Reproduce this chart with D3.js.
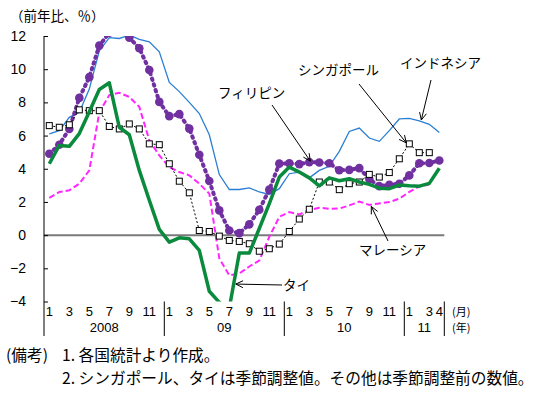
<!DOCTYPE html>
<html>
<head>
<meta charset="utf-8">
<script src="https://cdn.jsdelivr.net/npm/d3@7"></script>
<style>
  body { margin: 0; background: #fff; }
</style>
</head>
<body>
<div id="chart"></div>
<script>
// months Jan 2008 .. Apr 2011, only odd months (and Apr 2011) are labelled
var monthLabels = [
    "1", "", "3", "", "5", "", "7", "", "9", "", "11", "",
    "1", "", "3", "", "5", "", "7", "", "9", "", "11", "",
    "1", "", "3", "", "5", "", "7", "", "9", "", "11", "",
    "1", "", "3", "4"
];
var yearLabels = ["2008", "09", "10", "11"];
var yearLengths = [12, 12, 12, 4];
var yTicks = [-4, -2, 0, 2, 4, 6, 8, 10, 12];

// CPI, % y/y
var indonesia = [6.1, 6.3, 7.1, 7.4, 8.8, 11.1, 11.9, 11.85, 12.05, 11.8, 11.65, 11.05,
    9.2, 8.65, 8.0, 7.33, 6.05, 3.65, 2.75, 2.75, 2.85, 2.6, 2.45, 2.8,
    3.7, 3.8, 3.45, 3.9, 4.15, 5.05, 6.25, 6.45, 5.85, 5.65, 6.3, 7.0,
    7.03, 6.88, 6.68, 6.18];
var singapore = [6.6, 6.5, 6.65, 7.55, 7.5, 7.5, 6.55, 6.4, 6.7, 6.4, 5.5, 5.45,
    4.3, 3.25, 2.55, 0.28, 0.22, -0.06, -0.32, -0.38, -0.52, -0.97, -0.82, -0.54,
    0.22, 0.97, 1.56, 3.2, 3.2, 2.74, 3.1, 3.2, 3.66, 3.5, 3.77, 4.6,
    5.5, 4.97, 4.97, null];
var philippines = [4.9, 5.45, 6.4, 8.27, 9.52, 11.42, 12.2, 12.5, 11.9, 11.26, 9.95, 8.03,
    7.17, 7.29, 6.42, 4.84, 3.26, 1.49, 0.28, 0.12, 0.65, 1.53, 2.74, 4.31,
    4.33, 4.28, 4.4, 4.38, 4.33, 3.91, 3.93, 4.04, 3.38, 2.95, 3.03, 3.1,
    3.6, 4.33, 4.35, 4.5];
var malaysia = [2.24, 2.6, 2.7, 3.1, 3.9, 7.4, 8.44, 8.58, 8.33, 7.73, 5.72, 4.8,
    4.1, 3.8, 3.6, 3.1, 2.5, -1.4, -2.43, -2.31, -1.89, -1.53, -0.1, 1.1,
    1.39, 1.25, 1.51, 1.65, 1.59, 1.6, 1.79, 2.02, 1.82, 1.91, 1.99, 2.2,
    2.6, 2.93, 3.05, null];
var thailand = [4.3, 5.4, 5.35, 6.12, 7.43, 8.78, 9.18, 6.5, 6.05, 3.9, 2.1, 0.35,
    -0.42, -0.16, -0.22, -0.92, -3.38, -4.05, -4.4, -1.08, -1.08, 0.4, 1.9, 3.5,
    4.1, 3.8, 3.45, 2.97, 3.45, 3.28, 3.4, 3.2, 3.06, 2.83, 2.8, 3.02,
    2.97, 2.95, 3.12, 4.03];

var width = 541, height = 400;
var jpFont = "'Noto Sans CJK JP', sans-serif",
    numFont = "'Liberation Sans Narrow', 'Liberation Sans', Arial, sans-serif";

var svg = d3.select("#chart").append("svg")
    .attr("width", width)
    .attr("height", height);

var x = d3.scaleBand()
    .domain(d3.range(monthLabels.length))
    .range([44.3, 444.3]);
var y = d3.scaleLinear()
    .domain([-4, 12])
    .range([301.5, 36]);

function cx(i) { return x(i) + x.bandwidth() / 2; }

svg.append("defs").append("clipPath")
    .attr("id", "plot-clip")
    .append("rect")
    .attr("x", 44)
    .attr("y", y(12))
    .attr("width", x.range()[1] - 44)
    .attr("height", y(-4) - y(12));

// title
svg.append("text")
    .attr("x", 10)
    .attr("y", 21)
    .attr("font-family", jpFont)
    .attr("font-size", 13.5)
    .text("（前年比、％）");

// zero line
svg.append("line")
    .attr("x1", 44).attr("x2", x.range()[1])
    .attr("y1", y(0)).attr("y2", y(0))
    .attr("stroke", "#7a7a7a")
    .attr("stroke-width", 2);

// y axis
var yAxis = svg.append("g")
    .attr("transform", "translate(44,0)")
    .call(d3.axisLeft(y).tickValues(yTicks).tickSizeInner(-4).tickSizeOuter(0).tickPadding(18)
        .tickFormat(function(d) { return d < 0 ? "\u2212" + Math.abs(d) : d; }));
yAxis.select(".domain").remove();
yAxis.selectAll("line").attr("stroke", "#000");
yAxis.selectAll("text")
    .attr("font-family", numFont)
    .attr("font-size", 14)
    .attr("fill", "#000");

// year separators (also continue the y axis down)
var bounds = [0];
yearLengths.forEach(function(n, k) { bounds.push(bounds[k] + n); });
svg.selectAll(".sep")
    .data(bounds)
    .enter().append("line")
        .attr("class", "sep")
        .attr("x1", function(d) { return d === 0 ? 44 : x(d - 1) + x.bandwidth(); })
        .attr("x2", function(d) { return d === 0 ? 44 : x(d - 1) + x.bandwidth(); })
        .attr("y1", function(d) { return d === 0 ? y(12) : y(-4); })
        .attr("y2", 336)
        .attr("stroke", "#000")
        .attr("stroke-width", 1);

// x axis: month labels
var xAxis = svg.append("g")
    .attr("transform", "translate(0," + y(-4) + ")")
    .call(d3.axisBottom(x).tickSize(0).tickPadding(5)
        .tickFormat(function(i) { return monthLabels[i]; }));
xAxis.select(".domain").remove();
xAxis.selectAll("text")
    .attr("font-family", numFont)
    .attr("font-size", 13)
    .attr("fill", "#000");

// year labels
svg.selectAll(".year")
    .data(yearLabels)
    .enter().append("text")
        .attr("class", "year")
        .attr("x", function(d, k) {
            return (x(bounds[k]) + x(bounds[k + 1] - 1) + x.bandwidth()) / 2;
        })
        .attr("y", 332)
        .attr("text-anchor", "middle")
        .attr("font-family", numFont)
        .attr("font-size", 13)
        .text(function(d) { return d; });

// unit labels
svg.append("text")
    .attr("x", 452).attr("y", 316)
    .attr("font-family", jpFont).attr("font-size", 11)
    .text("(月)");
svg.append("text")
    .attr("x", 452).attr("y", 332)
    .attr("font-family", jpFont).attr("font-size", 11)
    .text("(年)");

// series
var plot = svg.append("g").attr("clip-path", "url(#plot-clip)");

var line = d3.line()
    .defined(function(d) { return d !== null; })
    .x(function(d, i) { return cx(i); })
    .y(function(d) { return y(d); });

plot.append("path")
    .datum(indonesia)
    .attr("fill", "none")
    .attr("stroke", "#2b7fd3")
    .attr("stroke-width", 1.3)
    .attr("d", line);

plot.append("path")
    .datum(malaysia)
    .attr("fill", "none")
    .attr("stroke", "#ff26ff")
    .attr("stroke-width", 2)
    .attr("stroke-dasharray", "6,3")
    .attr("d", line);

plot.append("path")
    .datum(philippines)
    .attr("fill", "none")
    .attr("stroke", "#7030a0")
    .attr("stroke-width", 4)
    .attr("stroke-linecap", "round")
    .attr("stroke-dasharray", "1.5,4.5")
    .attr("d", line);

plot.selectAll(".ph")
    .data(philippines)
    .enter().append("circle")
        .attr("class", "ph")
        .attr("cx", function(d, i) { return cx(i); })
        .attr("cy", function(d) { return y(d); })
        .attr("r", 4.3)
        .attr("fill", "#7030a0");

plot.append("path")
    .datum(singapore)
    .attr("fill", "none")
    .attr("stroke", "#000")
    .attr("stroke-width", 1)
    .attr("stroke-dasharray", "2,2")
    .attr("d", line);

plot.selectAll(".sg")
    .data(singapore.map(function(d, i) { return { i: i, v: d }; })
        .filter(function(d) { return d.v !== null; }))
    .enter().append("rect")
        .attr("class", "sg")
        .attr("x", function(d) { return cx(d.i) - 3; })
        .attr("y", function(d) { return y(d.v) - 3; })
        .attr("width", 6)
        .attr("height", 6)
        .attr("fill", "#fff")
        .attr("stroke", "#000")
        .attr("stroke-width", 1);

plot.append("path")
    .datum(thailand)
    .attr("fill", "none")
    .attr("stroke", "#0a8a3c")
    .attr("stroke-width", 3.5)
    .attr("stroke-linejoin", "round")
    .attr("d", line);

// labels with arrows; the tip is tied to a data point
var notes = [
    { text: "フィリピン", tx: 218, ty: 98, fx: 272, fy: 105, i: 26, v: philippines[26], dx: 1, dy: -1 },
    { text: "シンガポール", tx: 298, ty: 75, fx: 359, fy: 84, i: 36, v: singapore[36], dx: -3, dy: -1 },
    { text: "インドネシア", tx: 400, ty: 68, fx: 431, fy: 80, i: 37, v: indonesia[37], dx: 2, dy: -1 },
    { text: "マレーシア", tx: 359, ty: 255, fx: 388, fy: 241, i: 32, v: malaysia[32], dx: 2, dy: 1.5 }
];

function arrow(g, x1, y1, x2, y2) {
    var a = Math.atan2(y2 - y1, x2 - x1), len = 8, sp = 0.45;
    g.append("line")
        .attr("x1", x1).attr("y1", y1).attr("x2", x2).attr("y2", y2)
        .attr("stroke", "#000").attr("stroke-width", 1);
    g.append("path")
        .attr("d", "M" + (x2 - len * Math.cos(a - sp)) + "," + (y2 - len * Math.sin(a - sp)) +
            "L" + x2 + "," + y2 +
            "L" + (x2 - len * Math.cos(a + sp)) + "," + (y2 - len * Math.sin(a + sp)))
        .attr("fill", "none").attr("stroke", "#000").attr("stroke-width", 1);
}

var ann = svg.append("g");
notes.forEach(function(n) {
    ann.append("text")
        .attr("x", n.tx).attr("y", n.ty)
        .attr("font-family", jpFont).attr("font-size", 13.5)
        .text(n.text);
    arrow(ann, n.fx, n.fy, cx(n.i) + n.dx, y(n.v) + n.dy);
});

// Thailand label: arrow pointing left at the green line
arrow(ann, 282, 285, cx(19) - 3.5, y(-2.95));
ann.append("text")
    .attr("x", 283).attr("y", 290)
    .attr("font-family", jpFont).attr("font-size", 13.5)
    .text("タイ");

// notes
var noteFont = 15.7;
svg.append("text")
    .attr("x", 6).attr("y", 361)
    .attr("font-family", jpFont).attr("font-size", noteFont)
    .text("(備考)");
svg.append("text")
    .attr("x", 62).attr("y", 361)
    .attr("font-family", jpFont).attr("font-size", noteFont)
    .text("1.  各国統計より作成。");
svg.append("text")
    .attr("x", 62).attr("y", 384)
    .attr("font-family", jpFont).attr("font-size", noteFont)
    .text("2.  シンガポール、タイは季節調整値。その他は季節調整前の数値。");
</script>
</body>
</html>
